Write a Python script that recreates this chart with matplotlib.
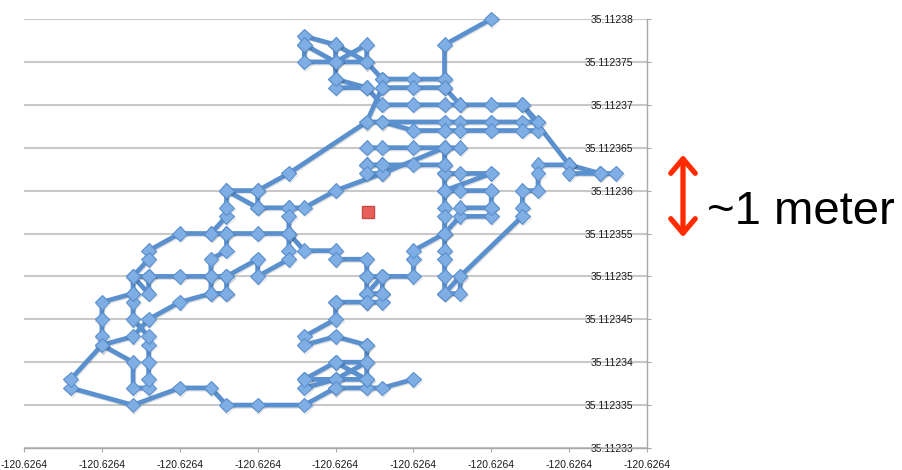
import matplotlib
matplotlib.use('Agg')
import matplotlib.pyplot as plt
import matplotlib.patheffects as pe
import numpy as np
from matplotlib.patches import FancyArrowPatch

# GPS fixes, offsets from the lower-left corner in micro-degrees (1e-6 deg)
LON0 = -120.62642
LAT0 = 35.11233

# track pieces (lon offset, lat offset)
track_u = [
    30, 27, 27, 27, 28, 30, 32, 35, 37, 38, None,
    27, 25, 23, 22, 20, 18, 18, 18, 20, 22, 22, 20, 20, None,
    18, 20, 20, 22, 20, 20, None,
    22, 23, 25, 27, 28, None,
    23, 23, 25, 27, None,
    23, 22, 23, 27, 28, 30, 32, 33, 32, None,
    23, 25, 27, 28, 30, 32, 33, 33, None,
    22, 23, 25, 27, 28, None,
    35, 33, 33, 33, 32, 32, 32, 28, 27, 28, 28, None,
    35, 35, 37, None,
    27, 27, 27, 27, 27, 27, 27, 27, 27, 27, 27, None,
    27, 28, 30, 27, 28, 30, 30, 30, 28, 27, None,
    28, 30, None,
    13, 15, 17, 22, None,
    15, 15, 17, 18, 20, 23, 27, None,
    22, 23, 25, 27, None,
    22, 22, 23, 23, None,
    17, 17, 17, 15, 13, 12, 10, 8, 8, 7, 8, 10, 12, 13, None,
    17, 18, 20, 20, 22, 22, 23, 25, 25, 25, 27, None,
    17, 17, 17, 15, 15, 13, 13, 12, 12, 12, 13, 13, None,
    12, 13, 13, 13, 15, None,
    25, 23, 22, 20, 18, 15, 13, 12, 10, 7, 3, 3, 5, 7, 7, 8, 8, 8, 8, 8,
    7, 7, 7, 5, 5, 5, 5, 7, 8, 10, 12, 13, None,
    7, 7, 8, 8, None,
    22, 22, 23, 23, 22, 22, 23, 23, None,
    20, 22, None,
    20, 20, 18, 18, 20, 22, None,
    22, 22, 20, 18, 22, 22, 20, 18, 18, None,
    20, 22, None,
    20, 20, None,
]
track_v = [
    50, 47, 43, 42, 40, 40, 40, 33, 32, 32, None,
    43, 43, 43, 45, 47, 48, 47, 45, 45, 45, 47, 45, 47, None,
    47, 45, 43, 42, 42, 43, None,
    42, 40, 40, 40, 40, None,
    43, 42, 42, 42, None,
    42, 38, 38, 38, 38, 38, 38, 38, 40, None,
    38, 37, 37, 37, 37, 37, 37, 38, None,
    35, 35, 35, 35, 35, None,
    33, 33, 32, 30, 30, 28, 27, 20, 18, 18, 20, None,
    33, 32, 32, None,
    35, 33, 32, 30, 28, 27, 25, 23, 22, 20, 18, None,
    32, 32, 32, 30, 30, 30, 28, 27, 27, 25, None,
    28, 28, None,
    30, 30, 32, 38, None,
    30, 28, 28, 28, 30, 32, 35, None,
    33, 33, 33, 33, None,
    33, 32, 32, 33, None,
    28, 27, 25, 25, 25, 25, 25, 23, 22, 20, 20, 20, 20, 20, None,
    25, 23, 23, 22, 22, 20, 20, 20, 22, 23, 25, None,
    25, 23, 22, 20, 22, 20, 18, 18, 20, 22, 23, 25, None,
    25, 27, 28, 30, 28, None,
    8, 7, 7, 7, 5, 5, 5, 7, 7, 5, 7, 8, 12, 10, 7, 7, 8, 10, 12, 13,
    15, 17, 18, 17, 15, 13, 12, 13, 15, 17, 18, 18, None,
    18, 20, 18, 20, None,
    20, 18, 18, 20, 18, 17, 17, 18, None,
    17, 17, None,
    17, 15, 13, 12, 13, 12, None,
    12, 10, 10, 8, 8, 10, 8, 7, 8, None,
    10, 8, None,
    8, 7, None,
]

# mean position (red square)
mean_u = [22.1]
mean_v = [27.5]

x_ticks_off = [0, 5, 10, 15, 20, 25, 30, 35, 40]
y_ticks_off = [0, 5, 10, 15, 20, 25, 30, 35, 40, 45, 50]


def to_deg(vals, base):
    return np.array([np.nan if v is None else base + v * 1e-6 for v in vals])


lon = to_deg(track_u, LON0)
lat = to_deg(track_v, LAT0)

plt.rcParams['font.family'] = ['Liberation Sans', 'DejaVu Sans']

fig = plt.figure(figsize=(9.03, 4.70), dpi=100)
ax = fig.add_axes([24 / 903, 1 - 448 / 470, 623 / 903, 429 / 470])

ax.plot(lon, lat, color='#5b90cf', linewidth=3.4, zorder=3, clip_on=False,
        marker='D', markersize=7.5, markerfacecolor='#7eaee3',
        markeredgecolor='#5b90cf', markeredgewidth=0.8,
        path_effects=[pe.SimpleLineShadow(offset=(0.6, -0.9),
                                          shadow_color='black', alpha=0.12),
                      pe.Normal()])
ax.plot(LON0 + np.array(mean_u) * 1e-6, LAT0 + np.array(mean_v) * 1e-6,
        linestyle='none', marker='s', markersize=8.5,
        markerfacecolor='#e8605a', markeredgecolor='#c94a45', zorder=4)

ax.set_xlim(LON0, LON0 + 40e-6)
ax.set_ylim(LAT0, LAT0 + 50e-6)

xt = [LON0 + t * 1e-6 for t in x_ticks_off]
yt = [LAT0 + t * 1e-6 for t in y_ticks_off]
ax.set_xticks(xt)
ax.set_xticklabels([f'{t:.4f}' for t in xt])
ax.set_yticks(yt)
ax.set_yticklabels([f'{t:.6f}'.rstrip('0') for t in yt])

ax.grid(axis='y', color='#c8c8c8', linewidth=1.5, zorder=0)
ax.grid(axis='x', visible=False)
for s in ['top', 'left']:
    ax.spines[s].set_visible(False)
for s in ['bottom', 'right']:
    ax.spines[s].set_color('#a8a8a8')
    ax.spines[s].set_linewidth(1.0)

ax.yaxis.tick_right()
ax.tick_params(axis='y', direction='out', length=3, color='#a8a8a8',
               pad=-13, labelsize=7.5, labelcolor='#1a1a1a')
for lbl in ax.get_yticklabels():
    lbl.set_horizontalalignment('right')
ax.tick_params(axis='x', direction='out', length=3, color='#a8a8a8',
               pad=6, labelsize=7.5, labelcolor='#1a1a1a')

# ~1 meter scale marker
arrow = FancyArrowPatch((683 / 903, 1 - 152 / 470), (683 / 903, 1 - 240 / 470),
                        transform=fig.transFigure, color='#ff2a00',
                        arrowstyle='<->,head_length=6.5,head_width=5.5',
                        linewidth=3.8, mutation_scale=1.6)
fig.add_artist(arrow)
fig.text(707 / 903, 1 - 212 / 470, '~1 meter', fontsize=34,
         ha='left', va='center', color='black')

fig.savefig('out.png', dpi=100)
